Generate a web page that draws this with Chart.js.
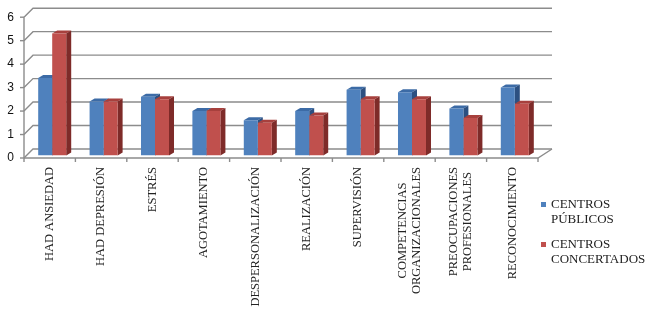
<!DOCTYPE html>
<html><head><meta charset="utf-8">
<script src="https://cdn.jsdelivr.net/npm/chart.js@4"></script>
<style>html,body{margin:0;padding:0;background:#fff}#wrap{width:650px;height:310px;position:relative}</style>
</head><body><div id="wrap"><canvas id="c" width="650" height="310"></canvas></div>
<script>
const categories = ['HAD ANSIEDAD','HAD DEPRESIÓN','ESTRÉS','AGOTAMIENTO','DESPERSONALIZACIÓN','REALIZACIÓN','SUPERVISIÓN',['COMPETENCIAS','ORGANIZACIONALES'],['PREOCUPACIONES','PROFESIONALES'],'RECONOCIMIENTO'];
const publicos = [3.3,2.3,2.5,1.9,1.5,1.9,2.8,2.7,2.0,2.9];
const concertados = [5.2,2.3,2.4,1.9,1.4,1.7,2.4,2.4,1.6,2.2];
const seriesNames = [['CENTROS','PÚBLICOS'],['CENTROS','CONCERTADOS']];
const yTicks = [0,1,2,3,4,5,6];

const frontColors = ['#4F81BD','#C0504D'];
const topColors = ['#3C6BA6','#A7403D'];
const sideColors = ['#2C5081','#7E2B29'];

const three = {
  id:'three',
  beforeDatasetsDraw(chart){
    const ctx=chart.ctx, a=chart.chartArea, ys=chart.scales.y, xs=chart.scales.x;
    const bx=9, by=-9, backRight=552;
    ctx.save();
    ctx.strokeStyle='#8c8c8c'; ctx.lineWidth=1.4;
    yTicks.forEach(v=>{
      const py=ys.getPixelForValue(v);
      ctx.beginPath();
      ctx.moveTo(a.left,py); ctx.lineTo(a.left+bx,py+by); ctx.lineTo(backRight,py+by); ctx.stroke();
      ctx.beginPath(); ctx.moveTo(a.left-4,py); ctx.lineTo(a.left,py); ctx.stroke();
    });
    ctx.beginPath(); ctx.moveTo(a.left,a.top); ctx.lineTo(a.left,a.bottom); ctx.stroke();
    ctx.beginPath(); ctx.moveTo(a.left,a.bottom); ctx.lineTo(a.right,a.bottom); ctx.lineTo(backRight,a.bottom+by); ctx.stroke();
    for(let i=0;i<=categories.length;i++){
      const px=xs.getPixelForValue(i-0.5);
      ctx.beginPath(); ctx.moveTo(px,a.bottom); ctx.lineTo(px,a.bottom+4); ctx.stroke();
    }
    // category labels, rotated, drawn at the category scale's positions
    ctx.fillStyle='#222'; ctx.font='12.5px "Liberation Serif"';
    ctx.textAlign='center'; ctx.textBaseline='middle';
    categories.forEach((lab,i)=>{
      const lines=Array.isArray(lab)?lab:[lab];
      const cx=xs.getPixelForValue(i);
      const lh=14.5;
      const maxW=Math.max(...lines.map(t=>ctx.measureText(t).width));
      lines.forEach((t,k)=>{
        const px=cx+(k-(lines.length-1)/2)*lh;
        ctx.save(); ctx.translate(px,a.bottom+9); ctx.rotate(-Math.PI/2);
        ctx.fillText(t,-maxW/2,0); ctx.restore();
      });
    });
    ctx.restore();
    ctx.save();
    ctx.translate(2.5,-2.5);
    const dx=5, dy=-3;
    chart.data.datasets.forEach((ds,di)=>{
      chart.getDatasetMeta(di).data.forEach(el=>{
        const p=el.getProps(['x','y','base','width'],true);
        const l=p.x-p.width/2, r=p.x+p.width/2;
        ctx.fillStyle=topColors[di];
        ctx.beginPath(); ctx.moveTo(l,p.y); ctx.lineTo(r,p.y); ctx.lineTo(r+dx,p.y+dy); ctx.lineTo(l+dx,p.y+dy); ctx.closePath(); ctx.fill();
        ctx.fillStyle=sideColors[di];
        ctx.beginPath(); ctx.moveTo(r,p.y); ctx.lineTo(r+dx,p.y+dy); ctx.lineTo(r+dx,p.base+dy); ctx.lineTo(r,p.base); ctx.closePath(); ctx.fill();
      });
    });
  },
  afterDatasetsDraw(chart){ chart.ctx.restore(); },
  afterDraw(chart){
    const ctx=chart.ctx;
    ctx.save();
    ctx.font='13px "Liberation Serif"'; ctx.fillStyle='#222'; ctx.textBaseline='middle';
    seriesNames.forEach((lines,i)=>{
      const y0=205+i*40;
      ctx.fillStyle=frontColors[i]; ctx.fillRect(541,y0-3,5,5);
      ctx.fillStyle='#222';
      lines.forEach((t,k)=>ctx.fillText(t,551,y0+k*15));
    });
    ctx.restore();
  }
};

new Chart(document.getElementById('c'),{
  type:'bar',
  data:{labels:categories,datasets:[
    {label:seriesNames[0].join(' '),data:publicos,backgroundColor:frontColors[0],borderWidth:0,barPercentage:1,categoryPercentage:0.545},
    {label:seriesNames[1].join(' '),data:concertados,backgroundColor:frontColors[1],borderWidth:0,barPercentage:1,categoryPercentage:0.545}
  ]},
  options:{
    responsive:false, animation:false, devicePixelRatio:1,
    layout:{padding:{top:17,right:112,left:0,bottom:0}},
    plugins:{legend:{display:false},tooltip:{enabled:false}},
    scales:{
      x:{offset:true,grid:{display:false,drawTicks:false},border:{display:false},
        ticks:{display:false},
        afterFit(s){s.height=152;}},
      y:{min:0,max:6,grid:{display:false,drawTicks:false},border:{display:false},
        ticks:{stepSize:1,padding:10,color:'#111',font:{family:'Liberation Sans',size:12}},
        afterBuildTicks(s){s.ticks=yTicks.map(v=>({value:v}));},
        afterFit(s){s.width=24;}}
    }
  },
  plugins:[three]
});
</script></body></html>
